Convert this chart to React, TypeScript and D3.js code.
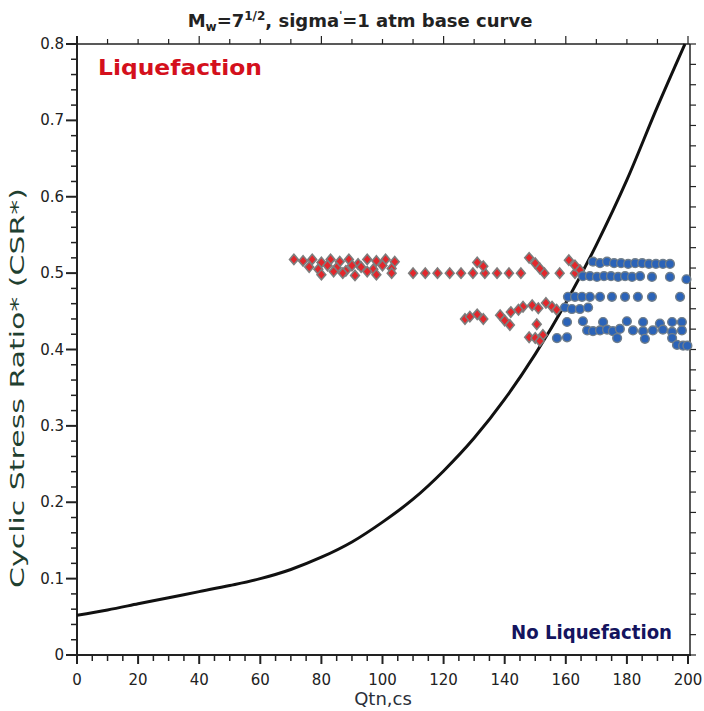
import React from "react";
import * as d3 from "d3";

// Base curve
const curveQ = [0, 10, 20, 30, 40, 50, 60, 70, 80, 90, 100, 110, 120, 130, 140, 150, 160, 170, 180, 190, 199];
const curveCSR = [0.052, 0.059, 0.067, 0.075, 0.083, 0.091, 0.1, 0.112, 0.128, 0.148, 0.174, 0.204, 0.241, 0.284, 0.335, 0.394, 0.461, 0.537, 0.622, 0.718, 0.8];

// Liquefied (red diamonds)
const redQ = [
  71, 74, 77, 80, 83, 86, 89, 92, 95, 98, 101, 104,
  76, 79, 82, 85, 88, 90, 93, 97, 100, 103,
  80, 84, 87, 91, 95, 98, 103,
  110, 114, 118, 122, 125.7, 129.6, 133.5, 137.5, 141.4, 145.3, 153, 158, 163,
  131, 133, 148, 150, 151.5, 161, 163, 164.6,
  127, 128.6, 131, 133, 138.5, 140, 141.7, 142, 146, 149, 151, 153.5, 155.5, 157, 150.5, 144.5,
  148, 150, 152.5, 151.5,
];
const redCSR = [
  0.518, 0.516, 0.518, 0.514, 0.518, 0.515, 0.518, 0.512, 0.518, 0.516, 0.518, 0.515,
  0.508, 0.505, 0.51, 0.507, 0.503, 0.51, 0.508, 0.505, 0.51, 0.506,
  0.498, 0.502, 0.5, 0.497, 0.502, 0.498, 0.5,
  0.5, 0.5, 0.5, 0.5, 0.5, 0.5, 0.5, 0.5, 0.5, 0.5, 0.5, 0.5, 0.5,
  0.514, 0.509, 0.52, 0.513, 0.506, 0.517, 0.51, 0.504,
  0.44, 0.443, 0.446, 0.44, 0.445, 0.438, 0.432, 0.449, 0.456, 0.458, 0.454, 0.461, 0.456, 0.452, 0.433, 0.452,
  0.416, 0.415, 0.419, 0.411,
];

// Non-liquefied (blue circles)
const blueQ = [
  168.9, 171.2, 173.5, 175.8, 178.1, 180.4, 182.7, 185, 187.2, 189.5, 191.8, 194.1,
  165.6, 167.9, 170.2, 172.5, 174.8, 177.1, 179.4, 181.7, 184.3, 188.2, 194.1, 199.5,
  160.7, 163, 165.3, 167.9, 171.2, 175.1, 179.4, 183.6, 188.2, 197.4,
  159.7, 162, 164.6, 167.3,
  160.4, 165.6, 172.2, 180, 185.3, 190.8, 194.8, 198,
  167, 168.9, 171.2, 173.5, 175.4, 177.7, 182, 185.3, 188.5, 191.8, 194.8, 198,
  157.1, 160.4, 176.8, 185.9, 194.8,
  196.4, 198.4, 199.8,
];
const blueCSR = [
  0.515, 0.513, 0.515, 0.513, 0.513, 0.512, 0.513, 0.513, 0.512, 0.512, 0.512, 0.512,
  0.496, 0.496, 0.495, 0.496, 0.496, 0.495, 0.496, 0.495, 0.496, 0.495, 0.495, 0.492,
  0.469, 0.469, 0.469, 0.469, 0.469, 0.469, 0.469, 0.469, 0.469, 0.469,
  0.455, 0.453, 0.453, 0.455,
  0.436, 0.437, 0.436, 0.437, 0.436, 0.434, 0.436, 0.436,
  0.425, 0.424, 0.425, 0.426, 0.424, 0.427, 0.425, 0.424, 0.425, 0.426, 0.423, 0.425,
  0.415, 0.416, 0.415, 0.414, 0.415,
  0.406, 0.405, 0.405,
];

const xTickLabels = [0, 20, 40, 60, 80, 100, 120, 140, 160, 180, 200];
const yTickLabels = [0, 0.1, 0.2, 0.3, 0.4, 0.5, 0.6, 0.7, 0.8];

const W = 704;
const H = 711;
const L = 77, R = 688, T = 44, B = 655;

export default function App() {
  const x = d3.scaleLinear().domain([0, 200]).range([L, R]);
  const y = d3.scaleLinear().domain([0, 0.8]).range([B, T]);
  const line = d3
    .line<number>()
    .x((_, i) => x(curveQ[i]))
    .y((_, i) => y(curveCSR[i]))
    .curve(d3.curveMonotoneX);

  const font = "'DejaVu Sans', Verdana, sans-serif";
  const xMinor = d3.range(0, 201, 5);
  const yMinor = d3.range(0, 41).map((i) => i * 0.02);
  const topTicks = d3.range(0, 201, 10);
  const rightTicks = d3.range(0, 31).map((i) => (i * 0.8) / 30);

  return (
    <svg width={W} height={H} style={{ position: "absolute", left: 0, top: 0, background: "#fff" }}>
      <defs>
        <clipPath id="plot">
          <rect x={L} y={T - 2} width={R - L + 6} height={B - T + 2} />
        </clipPath>
      </defs>
      {/* title */}
      <text x={360} y={27} textAnchor="middle" fontFamily={font} fontWeight="bold" fontSize={18} fill="#222">
        <tspan>M</tspan>
        <tspan fontSize={12} dy={4}>w</tspan>
        <tspan dy={-4}>=7</tspan>
        <tspan fontSize={12} dy={-7}>1/2</tspan>
        <tspan dy={7}>, sigma</tspan>
        <tspan fontSize={10} dy={-8}>'</tspan>
        <tspan dy={8}>=1 atm base curve</tspan>
      </text>

      {/* frame */}
      <line x1={L} y1={T - 8} x2={L} y2={B + 8} stroke="#222" strokeWidth={2} />
      <line x1={L - 8} y1={B} x2={R + 3} y2={B} stroke="#222" strokeWidth={2} />
      <line x1={L} y1={T} x2={R + 2} y2={T} stroke="#222" strokeWidth={1.5} />
      <line x1={R + 2} y1={T} x2={R + 2} y2={B} stroke="#222" strokeWidth={1.5} />

      {/* bottom ticks */}
      {xMinor.map((v) => (
        <line key={"xb" + v} x1={x(v)} x2={x(v)} y1={B - 1} y2={v % 20 === 0 ? B + 9 : B + 6} stroke="#222" strokeWidth={v % 20 === 0 ? 2 : 1.5} />
      ))}
      {/* left ticks */}
      {yMinor.map((v, i) => (
        <line key={"yl" + i} x1={i % 5 === 0 ? L - 11 : L - 6} x2={L + 1} y1={y(v)} y2={y(v)} stroke="#222" strokeWidth={i % 5 === 0 ? 2 : 1.5} />
      ))}
      {/* top ticks */}
      {topTicks.map((v) => (
        <line key={"xt" + v} x1={x(v)} x2={x(v)} y1={T} y2={v % 40 === 0 ? T - 8 : T - 5} stroke="#222" strokeWidth={1.2} />
      ))}
      {/* right ticks */}
      {rightTicks.map((v, i) => (
        <line key={"yr" + i} x1={R + 2} x2={R + 8} y1={y(v)} y2={y(v)} stroke="#222" strokeWidth={1.2} />
      ))}

      {/* tick labels */}
      {xTickLabels.map((v) => (
        <text key={"xl" + v} x={x(v)} y={B + 30} textAnchor="middle" fontFamily={font} fontSize={15} fill="#222">
          {v}
        </text>
      ))}
      {yTickLabels.map((v) => (
        <text key={"yll" + v} x={L - 13} y={y(v) + 5} textAnchor="end" fontFamily={font} fontSize={15} fill="#222">
          {v}
        </text>
      ))}

      {/* axis titles */}
      <text x={383} y={705} textAnchor="middle" fontFamily={font} fontSize={18} fill="#2a2f3a">
        Qtn,cs
      </text>
      <text
        transform={`translate(24,${388}) rotate(-90)`}
        textAnchor="middle"
        fontFamily={font}
        fontSize={19}
        textLength={400}
        lengthAdjust="spacingAndGlyphs"
        fill="#1f4030"
      >
        Cyclic Stress Ratio* (CSR*)
      </text>

      {/* region labels */}
      <text x={98} y={75} fontFamily={font} fontWeight="bold" fontSize={21} textLength={164} lengthAdjust="spacingAndGlyphs" fill="#d4101c">
        Liquefaction
      </text>
      <text x={511} y={639} fontFamily={font} fontWeight="bold" fontSize={19} textLength={161} lengthAdjust="spacingAndGlyphs" fill="#14145e">
        No Liquefaction
      </text>

      <g clipPath="url(#plot)">
        <path d={line(curveQ) || ""} fill="none" stroke="#111" strokeWidth={3} />
        {redQ.map((q, i) => (
          <path
            key={"r" + i}
            transform={`translate(${x(q)},${y(redCSR[i])})`}
            d="M0,-5.2L4.4,0L0,5.2L-4.4,0Z"
            fill="#e3262b"
            stroke="#7d7d7d"
            strokeWidth={1.6}
          />
        ))}
        {blueQ.map((q, i) => (
          <circle key={"b" + i} cx={x(q)} cy={y(blueCSR[i])} r={4.4} fill="#2b63b8" stroke="#6f7d8a" strokeWidth={1.4} />
        ))}
      </g>
    </svg>
  );
}
